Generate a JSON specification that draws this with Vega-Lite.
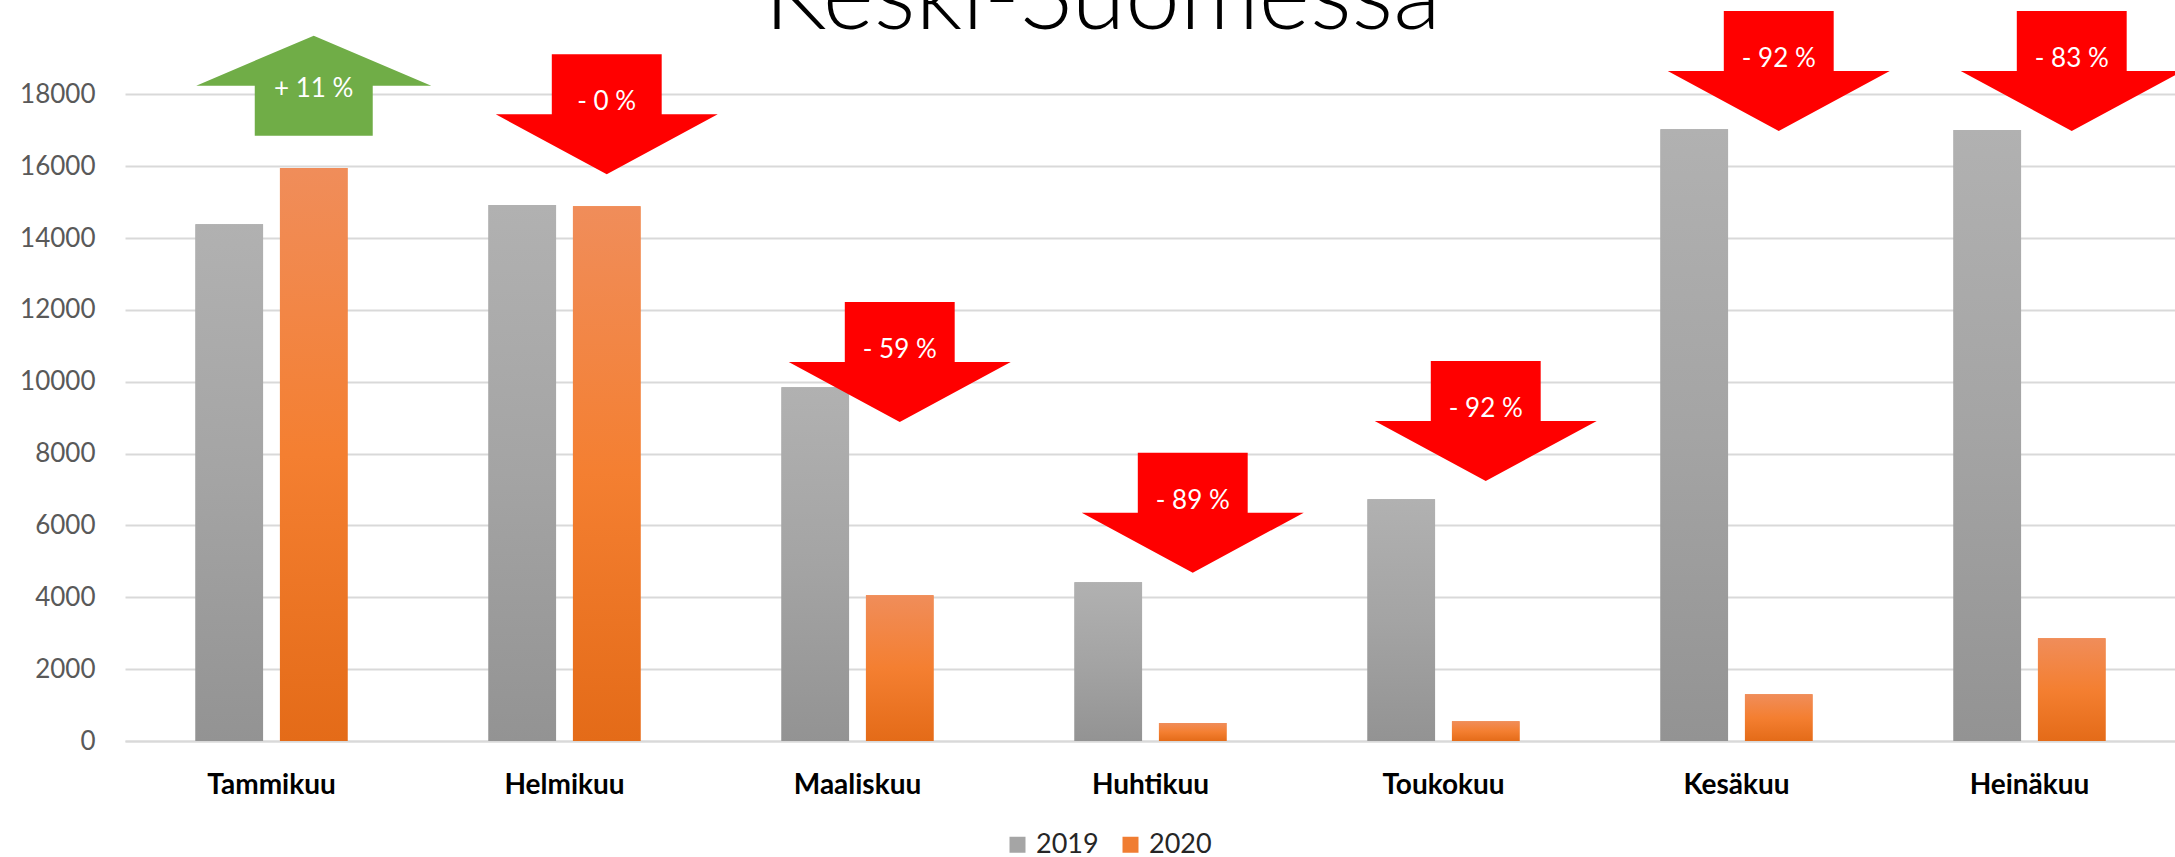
{
  "$schema": "https://vega.github.io/schema/vega-lite/v6.json",
  "width": 2051,
  "height": 741,
  "autosize": {"type": "none"},
  "padding": {"left": 125, "top": 0, "right": 0, "bottom": 116},
  "background": "white",
  "title": {
    "text": "Keski-Suomessa",
    "font": "Lato",
    "fontSize": 98,
    "fontWeight": 300,
    "color": "#000000",
    "anchor": "middle",
    "frame": "group",
    "baseline": "alphabetic",
    "offset": -127,
    "dx": -48
  },
  "config": {
    "view": {"stroke": null},
    "font": "Lato",
    "axisY": {
      "grid": true,
      "gridColor": "#d9d9d9",
      "gridWidth": 2,
      "domain": false,
      "ticks": false,
      "labelFont": "Lato",
      "labelFontSize": 26,
      "labelColor": "#595959",
      "labelPadding": 30
    },
    "axisX": {
      "grid": false,
      "domain": true,
      "domainColor": "#d9d9d9",
      "domainWidth": 2,
      "ticks": false,
      "labelFont": "Lato",
      "labelFontSize": 28,
      "labelFontWeight": "bold",
      "labelColor": "#000000",
      "labelAngle": 0,
      "labelPadding": 30
    },
    "legend": {
      "orient": "none",
      "legendX": 879,
      "legendY": 831,
      "direction": "horizontal",
      "padding": 0,
      "symbolType": "square",
      "symbolSize": 256,
      "symbolStrokeWidth": 0,
      "symbolOpacity": 1,
      "labelFont": "Lato",
      "labelFontSize": 27,
      "labelColor": "#262626",
      "labelOffset": 5,
      "columnPadding": 18
    }
  },
  "datasets": {
    "bars": [
      {"month": "Tammikuu", "year": "2019", "value": 14390},
      {"month": "Tammikuu", "year": "2020", "value": 15950},
      {"month": "Helmikuu", "year": "2019", "value": 14920},
      {"month": "Helmikuu", "year": "2020", "value": 14890},
      {"month": "Maaliskuu", "year": "2019", "value": 9850},
      {"month": "Maaliskuu", "year": "2020", "value": 4060},
      {"month": "Huhtikuu", "year": "2019", "value": 4420},
      {"month": "Huhtikuu", "year": "2020", "value": 500},
      {"month": "Toukokuu", "year": "2019", "value": 6730},
      {"month": "Toukokuu", "year": "2020", "value": 550},
      {"month": "Kesäkuu", "year": "2019", "value": 17030},
      {"month": "Kesäkuu", "year": "2020", "value": 1300},
      {"month": "Heinäkuu", "year": "2019", "value": 17010},
      {"month": "Heinäkuu", "year": "2020", "value": 2860}
    ],
    "arrows": [
      {"month": "Tammikuu", "year": "2020", "direction": "up", "value": 18245, "label": "+ 11 %"},
      {"month": "Helmikuu", "year": "2020", "direction": "down", "value": 17448, "label": "- 0 %"},
      {"month": "Maaliskuu", "year": "2020", "direction": "down", "value": 10552, "label": "- 59 %"},
      {"month": "Huhtikuu", "year": "2020", "direction": "down", "value": 6356, "label": "- 89 %"},
      {"month": "Toukokuu", "year": "2020", "direction": "down", "value": 8909, "label": "- 92 %"},
      {"month": "Kesäkuu", "year": "2020", "direction": "down", "value": 18654, "label": "- 92 %"},
      {"month": "Heinäkuu", "year": "2020", "direction": "down", "value": 18654, "label": "- 83 %"}
    ]
  },
  "layer": [
    {
      "data": {"name": "bars"},
      "mark": {"type": "bar"},
      "encoding": {
        "x": {
          "field": "month",
          "type": "nominal",
          "title": null,
          "sort": ["Tammikuu", "Helmikuu", "Maaliskuu", "Huhtikuu", "Toukokuu", "Kesäkuu", "Heinäkuu"],
          "scale": {"domain": ["Tammikuu", "Helmikuu", "Maaliskuu", "Huhtikuu", "Toukokuu", "Kesäkuu", "Heinäkuu"], "paddingInner": 0, "paddingOuter": 0}
        },
        "xOffset": {
          "field": "year",
          "type": "nominal",
          "scale": {"domain": ["2019", "2020"], "paddingInner": 0.2, "paddingOuter": 0.834}
        },
        "y": {
          "field": "value",
          "type": "quantitative",
          "title": null,
          "scale": {"domain": [0, 20630], "nice": false, "zero": true},
          "axis": {"values": [0, 2000, 4000, 6000, 8000, 10000, 12000, 14000, 16000, 18000], "format": "d"}
        },
        "color": {
          "field": "year",
          "type": "nominal",
          "title": null,
          "scale": {"domain": ["2019", "2020"], "range": ["#a5a5a5", "#f07d32"]}
        }
      }
    },
    {
      "data": {"name": "bars"},
      "transform": [{"filter": "datum.year === '2019'"}],
      "mark": {
        "type": "bar",
        "color": {"gradient": "linear", "x1": 0, "y1": 0, "x2": 0, "y2": 1, "stops": [{"offset": 0, "color": "#b1b1b1"}, {"offset": 0.5, "color": "#a4a4a4"}, {"offset": 1, "color": "#939393"}]}
      },
      "encoding": {
        "x": {"field": "month", "type": "nominal", "title": null, "sort": ["Tammikuu", "Helmikuu", "Maaliskuu", "Huhtikuu", "Toukokuu", "Kesäkuu", "Heinäkuu"]},
        "xOffset": {"field": "year", "type": "nominal"},
        "y": {"field": "value", "type": "quantitative", "title": null}
      }
    },
    {
      "data": {"name": "bars"},
      "transform": [{"filter": "datum.year === '2020'"}],
      "mark": {
        "type": "bar",
        "color": {"gradient": "linear", "x1": 0, "y1": 0, "x2": 0, "y2": 1, "stops": [{"offset": 0, "color": "#f08d5a"}, {"offset": 0.5, "color": "#f47f31"}, {"offset": 1, "color": "#e46b18"}]}
      },
      "encoding": {
        "x": {"field": "month", "type": "nominal", "title": null, "sort": ["Tammikuu", "Helmikuu", "Maaliskuu", "Huhtikuu", "Toukokuu", "Kesäkuu", "Heinäkuu"]},
        "xOffset": {"field": "year", "type": "nominal"},
        "y": {"field": "value", "type": "quantitative", "title": null}
      }
    },
    {
      "data": {"name": "arrows"},
      "mark": {"type": "point", "filled": true, "opacity": 1, "strokeWidth": 0},
      "encoding": {
        "x": {"field": "month", "type": "nominal", "title": null, "sort": ["Tammikuu", "Helmikuu", "Maaliskuu", "Huhtikuu", "Toukokuu", "Kesäkuu", "Heinäkuu"]},
        "xOffset": {"field": "year", "type": "nominal"},
        "y": {"field": "value", "type": "quantitative", "title": null},
        "fill": {
          "field": "direction",
          "type": "nominal",
          "legend": null,
          "scale": {"domain": ["up", "down"], "range": ["#70ad47", "#ff0000"]}
        },
        "shape": {
          "field": "direction",
          "type": "nominal",
          "legend": null,
          "scale": {
            "domain": ["up", "down"],
            "range": [
              "M 0 -0.4255 L 1 0 L 0.502 0 L 0.502 0.4255 L -0.502 0.4255 L -0.502 0 L -1 0 Z",
              "M -0.495 -0.54 L 0.495 -0.54 L 0.495 0 L 1 0 L 0 0.54 L -1 0 L -0.495 0 Z"
            ]
          }
        },
        "size": {
          "field": "direction",
          "type": "nominal",
          "legend": null,
          "scale": {"domain": ["up", "down"], "range": [55225, 49284]}
        }
      }
    },
    {
      "data": {"name": "arrows"},
      "transform": [{"filter": "datum.direction === 'down'"}],
      "mark": {"type": "text", "color": "#ffffff", "font": "Lato", "fontSize": 26, "baseline": "middle", "align": "center", "dy": -12},
      "encoding": {
        "x": {"field": "month", "type": "nominal", "title": null, "sort": ["Tammikuu", "Helmikuu", "Maaliskuu", "Huhtikuu", "Toukokuu", "Kesäkuu", "Heinäkuu"]},
        "xOffset": {"field": "year", "type": "nominal"},
        "y": {"field": "value", "type": "quantitative", "title": null},
        "text": {"field": "label", "type": "nominal"}
      }
    },
    {
      "data": {"name": "arrows"},
      "transform": [{"filter": "datum.direction === 'up'"}],
      "mark": {"type": "text", "color": "#ffffff", "font": "Lato", "fontSize": 26, "baseline": "middle", "align": "center", "dy": 3},
      "encoding": {
        "x": {"field": "month", "type": "nominal", "title": null, "sort": ["Tammikuu", "Helmikuu", "Maaliskuu", "Huhtikuu", "Toukokuu", "Kesäkuu", "Heinäkuu"]},
        "xOffset": {"field": "year", "type": "nominal"},
        "y": {"field": "value", "type": "quantitative", "title": null},
        "text": {"field": "label", "type": "nominal"}
      }
    }
  ]
}
